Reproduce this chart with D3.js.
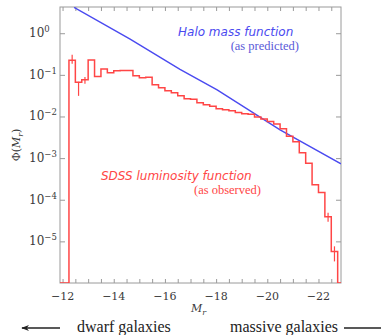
<!DOCTYPE html>
<html>
<head>
<meta charset="utf-8">
<script src="https://cdn.jsdelivr.net/npm/d3@7"></script>
<style>
html,body{margin:0;padding:0;background:#fff;}
svg{display:block;}
</style>
</head>
<body>
<svg id="chart" width="381" height="335"></svg>
<script>
// ---------------- DATA ----------------
// SDSS luminosity function histogram: bins of 0.25 mag starting at Mr = -12.25
const lfBinStart = -12.25;
const lfBinWidth = 0.25;
const lfPhi = [
  0.223, 0.0661, 0.0759, 0.229, 0.0912, 0.139, 0.112, 0.125, 0.128, 0.128,
  0.0946, 0.0847, 0.0871, 0.0575, 0.0488, 0.0413, 0.0370, 0.0313, 0.0265, 0.0258,
  0.0213, 0.0191, 0.0175, 0.0153, 0.0145, 0.0137, 0.0125, 0.0116, 0.0113, 0.00966,
  0.00865, 0.00757, 0.00656, 0.00506, 0.00334, 0.00247, 0.00134, 0.000752, 0.000229, 0.000150,
  0.0000391, 0.00000574
];
// error bars: bin index, lower, upper
const lfErrBin = [0, 1, 2, 40, 41];
const lfErrLo  = [0.184, 0.0313, 0.061, 0.0000295, 0.0000033];
const lfErrHi  = [0.302, 0.068, 0.089, 0.000049, 0.0000076];

// Halo mass function (as predicted)
const haloMr  = [-12.45, -14.64, -16.59, -18.04, -20.50, -22.88];
const haloPhi = [4.17, 0.719, 0.1355, 0.0436, 0.00479, 0.000731];

// Axis ticks
const xTickLabels = [-12, -14, -16, -18, -20, -22];
const xMinorTicks = d3.range(-12, -22.51, -0.5);
const yTickExps = [0, -1, -2, -3, -4, -5];

// ---------------- LAYOUT ----------------
const svg = d3.select("#chart");
const L = 60, R = 341, T = 7, B = 283;
const x = d3.scaleLinear().domain([-11.9, -22.88]).range([L, R]);
const y = d3.scaleLog().domain([1e-6, Math.pow(10, 0.63)]).range([B, T]);

const axisColor = "#9a9a9a";
const textColor = "#3a3a3a";
const red = "#ff4646";
const blue = "#4a4af0";

svg.append("rect").attr("width", 381).attr("height", 335).attr("fill", "#fff");

svg.append("defs").append("clipPath").attr("id", "clip")
  .append("rect").attr("x", L).attr("y", T).attr("width", R - L).attr("height", B - T);

function styleAxis(g) {
  g.select(".domain").remove();
  g.selectAll(".tick line").attr("stroke", axisColor);
  g.selectAll(".tick text").remove();
}
svg.append("g").attr("transform", `translate(0,${B})`)
  .call(d3.axisBottom(x).tickValues(xMinorTicks).tickSizeInner(-4).tickSizeOuter(0))
  .call(styleAxis);
svg.append("g").attr("transform", `translate(0,${T})`)
  .call(d3.axisTop(x).tickValues(xMinorTicks).tickSizeInner(-4).tickSizeOuter(0))
  .call(styleAxis);
const yTickVals = yTickExps.map(e => Math.pow(10, e));
svg.append("g").attr("transform", `translate(${L},0)`)
  .call(d3.axisLeft(y).tickValues(yTickVals).tickSizeInner(-5).tickSizeOuter(0))
  .call(styleAxis);
svg.append("g").attr("transform", `translate(${R},0)`)
  .call(d3.axisRight(y).tickValues(yTickVals).tickSizeInner(-5).tickSizeOuter(0))
  .call(styleAxis);

// x tick labels
svg.append("g").selectAll("text").data(xTickLabels).join("text")
  .attr("x", d => x(d)).attr("y", 300)
  .attr("text-anchor", "middle")
  .attr("font-family", "DejaVu Serif").attr("font-size", 11)
  .attr("fill", textColor)
  .text(d => "\u2212" + Math.abs(d));

// y tick labels 10^n
const yl = svg.append("g").selectAll("text").data(yTickExps).join("text")
  .attr("x", 29).attr("y", d => y(Math.pow(10, d)) + 4)
  .attr("font-family", "DejaVu Serif").attr("font-size", 12)
  .attr("fill", textColor);
yl.append("tspan").text("10");
yl.append("tspan").attr("dy", -5).attr("font-size", 8.5)
  .text(d => d === 0 ? "0" : "\u2212" + Math.abs(d));

// axis titles
const yt = svg.append("text")
  .attr("transform", `translate(20,${(T + B) / 2}) rotate(-90)`)
  .attr("text-anchor", "middle")
  .attr("font-family", "DejaVu Serif").attr("font-size", 11)
  .attr("fill", textColor);
yt.append("tspan").text("\u03A6(");
yt.append("tspan").attr("font-style", "italic").text("M");
yt.append("tspan").attr("font-style", "italic").attr("font-size", 8).attr("dy", 3).text("r");
yt.append("tspan").attr("dy", -3).text(")");

const xt = svg.append("text")
  .attr("x", (L + R) / 2 - 2).attr("y", 312)
  .attr("text-anchor", "middle")
  .attr("font-family", "DejaVu Serif").attr("font-size", 11)
  .attr("fill", textColor);
xt.append("tspan").attr("font-style", "italic").text("M");
xt.append("tspan").attr("font-style", "italic").attr("font-size", 8).attr("dy", 3).text("r");

// frame
svg.append("rect").attr("x", L).attr("y", T).attr("width", R - L).attr("height", B - T)
  .attr("fill", "none").attr("stroke", axisColor).attr("stroke-width", 1);

// ---------------- MARKS ----------------
const plot = svg.append("g").attr("clip-path", "url(#clip)");

plot.append("path")
  .datum(haloMr.map((m, i) => [m, haloPhi[i]]))
  .attr("fill", "none").attr("stroke", blue).attr("stroke-width", 1.4)
  .attr("d", d3.line().x(d => x(d[0])).y(d => y(d[1])));

const floor = y.domain()[0];
const pts = [[x.domain()[0], floor], [lfBinStart, floor]];
lfPhi.forEach((v, i) => {
  const e0 = lfBinStart - i * lfBinWidth, e1 = e0 - lfBinWidth;
  pts.push([e0, v], [e1, v]);
});
const lastEdge = lfBinStart - lfPhi.length * lfBinWidth;
pts.push([lastEdge, floor], [x.domain()[1], floor]);
plot.append("path").datum(pts)
  .attr("fill", "none").attr("stroke", red).attr("stroke-width", 1.5)
  .attr("d", d3.line().x(d => x(d[0])).y(d => y(d[1])));

plot.append("g").selectAll("line").data(lfErrBin).join("line")
  .attr("x1", (b) => x(lfBinStart - (b + 0.5) * lfBinWidth))
  .attr("x2", (b) => x(lfBinStart - (b + 0.5) * lfBinWidth))
  .attr("y1", (b, i) => y(lfErrLo[i]))
  .attr("y2", (b, i) => y(lfErrHi[i]))
  .attr("stroke", red).attr("stroke-width", 1.2);

// ---------------- ANNOTATIONS ----------------
svg.append("text").attr("x", 178).attr("y", 36)
  .attr("font-family", "DejaVu Sans").attr("font-style", "italic").attr("font-size", 12)
  .attr("fill", blue).text("Halo mass function");
svg.append("text").attr("x", 299).attr("y", 50).attr("text-anchor", "end")
  .attr("font-family", "Liberation Serif").attr("font-size", 12.5)
  .attr("fill", "#5a5ad8").text("(as predicted)");

svg.append("text").attr("x", 101).attr("y", 180)
  .attr("font-family", "DejaVu Sans").attr("font-style", "italic").attr("font-size", 12)
  .attr("fill", red).text("SDSS luminosity function");
svg.append("text").attr("x", 261).attr("y", 194).attr("text-anchor", "end")
  .attr("font-family", "Liberation Serif").attr("font-size", 12.5)
  .attr("fill", red).text("(as observed)");

const defs = svg.select("defs");
defs.append("marker").attr("id", "ah").attr("viewBox", "0 0 10 10")
  .attr("refX", 9).attr("refY", 5).attr("markerWidth", 6).attr("markerHeight", 6)
  .attr("orient", "auto-start-reverse")
  .append("path").attr("d", "M0,1 L10,5 L0,9 L3,5 Z").attr("fill", "#222");
svg.append("line").attr("x1", 60).attr("y1", 328).attr("x2", 22).attr("y2", 328)
  .attr("stroke", "#222").attr("stroke-width", 1.3).attr("marker-end", "url(#ah)");
svg.append("line").attr("x1", 344).attr("y1", 328).attr("x2", 392).attr("y2", 328)
  .attr("stroke", "#222").attr("stroke-width", 1.3).attr("marker-end", "url(#ah)");
svg.append("text").attr("x", 77).attr("y", 332)
  .attr("font-family", "Liberation Serif").attr("font-size", 16)
  .attr("fill", "#222").text("dwarf galaxies");
svg.append("text").attr("x", 230).attr("y", 332)
  .attr("font-family", "Liberation Serif").attr("font-size", 16)
  .attr("fill", "#222").text("massive galaxies");
</script>
</body>
</html>
